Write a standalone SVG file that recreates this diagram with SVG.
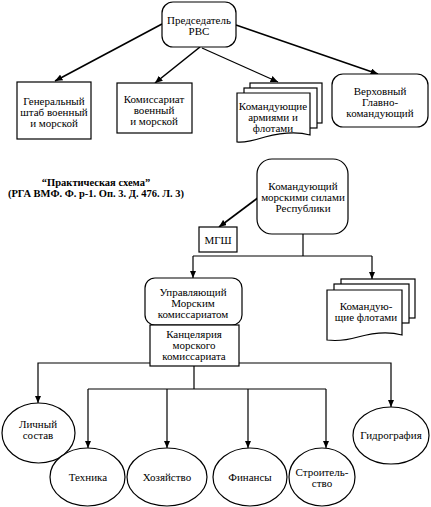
<svg xmlns="http://www.w3.org/2000/svg" width="431" height="507" viewBox="0 0 431 507">
<defs>
<style>
.s{fill:#fff;stroke:#000;stroke-width:1.2}
.t{font-family:"Liberation Serif","Times New Roman",serif;font-size:11px;text-anchor:middle;fill:#000}
.b{font-family:"Liberation Serif","Times New Roman",serif;font-size:10.5px;font-weight:bold;text-anchor:middle;fill:#000}
.c{fill:none;stroke:#000;stroke-width:1.2}
.c2{fill:none;stroke:#000;stroke-width:1.6}
</style>
<marker id="ah" viewBox="0 0 10 10" refX="10" refY="5" markerWidth="7.5" markerHeight="6.5" markerUnits="userSpaceOnUse" orient="auto" preserveAspectRatio="none">
<path d="M0,0 L10,5 L0,10 Z" fill="#000"/>
</marker>
</defs>
<rect width="431" height="507" fill="#fff"/>

<g id="connectors">
<line class="c2" x1="162" y1="24" x2="55" y2="81" marker-end="url(#ah)"/>
<line class="c2" x1="200" y1="47" x2="155" y2="83" marker-end="url(#ah)"/>
<line class="c" x1="202" y1="48" x2="278" y2="82" marker-end="url(#ah)"/>
<line class="c2" x1="236" y1="25" x2="378" y2="74" marker-end="url(#ah)"/>
<line class="c2" x1="259" y1="197" x2="219" y2="227" marker-end="url(#ah)"/>
<path class="c" d="M303,234 V256 M193,256 H372"/>
<line class="c" x1="193" y1="256" x2="193" y2="278" marker-end="url(#ah)"/>
<line class="c" x1="372" y1="256" x2="372" y2="279" marker-end="url(#ah)"/>
<path class="c" d="M150,363 H38 V403" marker-end="url(#ah)"/>
<path class="c" d="M239,363 H391 V407" marker-end="url(#ah)"/>
<path class="c" d="M194,366 V389 M88,389 H326"/>
<line class="c" x1="88" y1="389" x2="88" y2="448" marker-end="url(#ah)"/>
<line class="c" x1="167" y1="389" x2="167" y2="448" marker-end="url(#ah)"/>
<line class="c" x1="248" y1="389" x2="248" y2="448" marker-end="url(#ah)"/>
<line class="c" x1="326" y1="389" x2="326" y2="448" marker-end="url(#ah)"/>
</g>

<g id="pred">
<rect class="s" x="162" y="2" width="74" height="45" rx="11"/>
<text class="t" x="199" y="24">Председатель</text>
<text class="t" x="199" y="35">РВС</text>
</g>

<g id="genshtab">
<rect class="s" x="17" y="82" width="74" height="57"/>
<text class="t" x="54" y="105">Генеральный</text>
<text class="t" x="54" y="116">штаб военный</text>
<text class="t" x="54" y="127">и морской</text>
</g>

<g id="komissariat">
<rect class="s" x="117" y="83" width="75" height="50"/>
<text class="t" x="154" y="103">Комиссариат</text>
<text class="t" x="154" y="114">военный</text>
<text class="t" x="154" y="125">и морской</text>
</g>

<g id="komandarm">
<rect class="s" x="250" y="83" width="72" height="40"/>
<rect class="s" x="244" y="88" width="73" height="40"/>
<path class="s" d="M237,93 H310 V135 C296,131 280,133 265,137 C252,141 244,143 237,142 Z"/>
<text class="t" x="273" y="110">Командующие</text>
<text class="t" x="273" y="121">армиями и</text>
<text class="t" x="273" y="132">флотами</text>
</g>

<g id="verkh">
<rect class="s" x="332" y="74" width="96" height="53" rx="11"/>
<text class="t" x="380" y="95">Верховный</text>
<text class="t" x="380" y="106">Главно-</text>
<text class="t" x="380" y="117">командующий</text>
</g>

<g id="caption">
<text class="b" x="96" y="186">“Практическая схема”</text>
<text class="b" x="96" y="197">(РГА ВМФ. Ф. р-1. Оп. 3. Д. 476. Л. 3)</text>
</g>

<g id="kommorsil">
<rect class="s" x="257" y="159" width="91" height="75" rx="15"/>
<text class="t" x="303" y="190">Командующий</text>
<text class="t" x="303" y="201">морскими силами</text>
<text class="t" x="303" y="212">Республики</text>
</g>

<g id="mgsh">
<rect class="s" x="199" y="227" width="38" height="25"/>
<text class="t" x="218" y="244">МГШ</text>
</g>

<g id="upravl">
<rect class="s" x="145" y="278" width="97" height="47" rx="10"/>
<text class="t" x="193" y="296">Управляющий</text>
<text class="t" x="193" y="307">Морским</text>
<text class="t" x="193" y="318">комиссариатом</text>
</g>

<g id="kantsel">
<rect class="s" x="150" y="325" width="89" height="41"/>
<text class="t" x="194" y="338">Канцелярия</text>
<text class="t" x="194" y="349">морского</text>
<text class="t" x="194" y="360">комиссариата</text>
</g>

<g id="komflot">
<rect class="s" x="341" y="279" width="74" height="39"/>
<rect class="s" x="334" y="284" width="75" height="39"/>
<path class="s" d="M327,290 H402 V335 C388,331 372,333 358,337 C344,341 335,341 327,340 Z"/>
<text class="t" x="366" y="310">Командую-</text>
<text class="t" x="366" y="321">щие флотами</text>
</g>

<g id="lichny">
<ellipse class="s" cx="38.5" cy="433" rx="36.5" ry="30"/>
<text class="t" x="38" y="428">Личный</text>
<text class="t" x="38" y="439">состав</text>
</g>

<g id="tekhnika">
<ellipse class="s" cx="87.5" cy="477" rx="37.5" ry="29"/>
<text class="t" x="88" y="481">Техника</text>
</g>

<g id="khoz">
<ellipse class="s" cx="167" cy="477" rx="40" ry="29"/>
<text class="t" x="167" y="481">Хозяйство</text>
</g>

<g id="finansy">
<ellipse class="s" cx="250" cy="477" rx="37" ry="29"/>
<text class="t" x="250" y="481">Финансы</text>
</g>

<g id="stroit">
<ellipse class="s" cx="322" cy="477" rx="33" ry="29"/>
<text class="t" x="322" y="476">Строитель-</text>
<text class="t" x="322" y="487">ство</text>
</g>

<g id="gidro">
<ellipse class="s" cx="391" cy="435.5" rx="38" ry="28.5"/>
<text class="t" x="391" y="439">Гидрография</text>
</g>
</svg>
